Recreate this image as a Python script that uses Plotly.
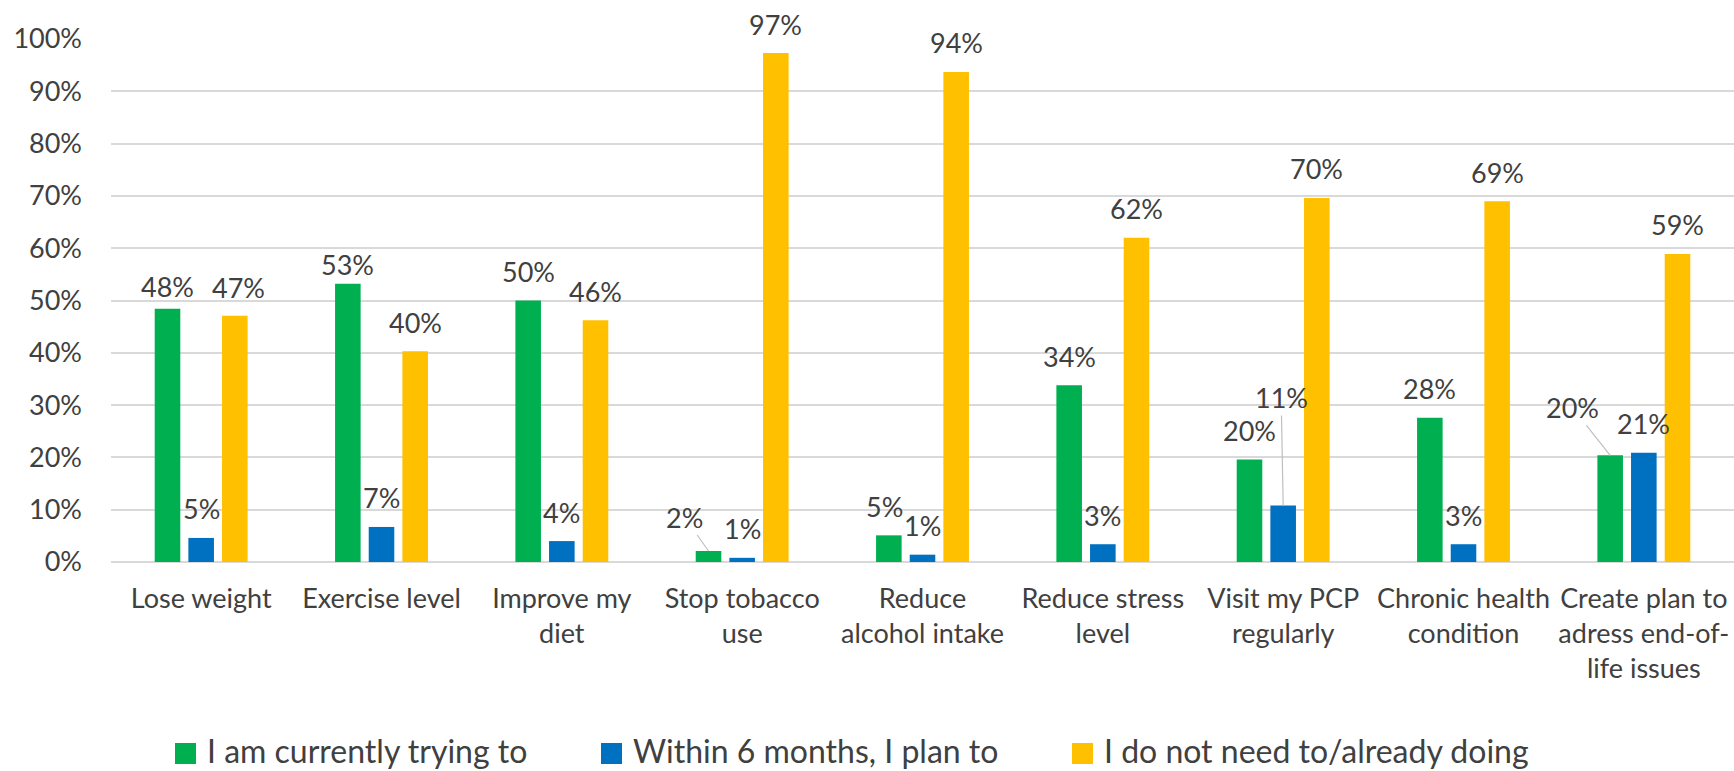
import plotly.graph_objects as go

# Survey categories (x axis) and the three response series, as fractions
categories = [
    "Lose weight",
    "Exercise level",
    "Improve my<br>diet",
    "Stop tobacco<br>use",
    "Reduce<br>alcohol intake",
    "Reduce stress<br>level",
    "Visit my PCP<br>regularly",
    "Chronic health<br>condition",
    "Create plan to<br>adress end-of-<br>life issues",
]
series_names = [
    "I am currently trying to",
    "Within 6 months, I plan to",
    "I do not need to/already doing",
]
currently_trying = [0.484, 0.532, 0.500, 0.021, 0.051, 0.338, 0.196, 0.276, 0.204]
plan_in_6_months = [0.046, 0.067, 0.040, 0.008, 0.014, 0.034, 0.108, 0.034, 0.209]
no_need_or_doing = [0.471, 0.403, 0.462, 0.973, 0.937, 0.620, 0.696, 0.690, 0.589]
y_ticks = [0.0, 0.1, 0.2, 0.3, 0.4, 0.5, 0.6, 0.7, 0.8, 0.9, 1.0]

series_values = [currently_trying, plan_in_6_months, no_need_or_doing]
colors = ["#00B050", "#0070C0", "#FFC000"]

W, H = 1734, 771
M_L, M_R, M_T, M_B = 111, 0, 39, 209
PLOT_W, PLOT_H = W - M_L - M_R, H - M_T - M_B
BARGAP, BARGROUPGAP = 0.44, 0.24
FONT = "Lato, 'Open Sans', sans-serif"
TEXT_COLOR = "#404040"
FS = 27
LEGEND_FS = 32

fig = go.Figure()
for name, vals, col in zip(series_names, series_values, colors):
    fig.add_trace(go.Bar(x=categories, y=vals, name=name, marker_color=col,
                         marker_line_width=0, hoverinfo="skip", showlegend=False))

# Horizontal pixel offset of each series' bar inside a category group
cat_w = PLOT_W / len(categories)
slot = cat_w * (1 - BARGAP) / len(series_values)
offsets = [(i - (len(series_values) - 1) / 2) * slot for i in range(len(series_values))]

# Label placement: default centre above the bar top, with a few hand nudges
DEFAULT_DY = 29
nudges = {
    (0, 0): (0, 22),
    (0, 1): (0, 19),
    (2, 0): (4, 28),
    (0, 4): (-4, 29),
}
# Labels moved away from their bar, connected by a leader line
leaders = {
    (0, 3): (-24, 34),
    (1, 6): (-2, 108),
    (0, 8): (-38, 48),
}

annotations = []
for i, vals in enumerate(series_values):
    for j, v in enumerate(vals):
        label = f"{v:.0%}"
        if (i, j) in leaders:
            dx, dy = leaders[(i, j)]
            annotations.append(dict(
                x=categories[j], y=v, xref="x", yref="y", xshift=offsets[i],
                text=label, showarrow=True, arrowhead=0, arrowwidth=1.2,
                arrowcolor="#bfbfbf", ax=dx, ay=-dy, standoff=0,
                font=dict(family=FONT, size=FS, color=TEXT_COLOR)))
        else:
            dx, dy = nudges.get((i, j), (0, DEFAULT_DY))
            annotations.append(dict(
                x=categories[j], y=v, xref="x", yref="y",
                xshift=offsets[i] + dx, yshift=dy, yanchor="middle",
                text=label, showarrow=False,
                font=dict(family=FONT, size=FS, color=TEXT_COLOR)))


# Legend row below the chart: colour key squares and series names (pixel layout)
def px_x(px):
    return (px - M_L) / PLOT_W


def px_y(py):
    return (H - M_B - py) / PLOT_H


legend_keys_left = [175, 601, 1072]
KEY_SIZE = 21
KEY_TOP = 743
TEXT_GAP = 9
TEXT_MID = 750
shapes = []
for name, col, left in zip(series_names, colors, legend_keys_left):
    shapes.append(dict(type="rect", xref="paper", yref="paper",
                       x0=px_x(left), x1=px_x(left + KEY_SIZE),
                       y0=px_y(KEY_TOP + KEY_SIZE), y1=px_y(KEY_TOP),
                       fillcolor=col, line_width=0, layer="above"))
    annotations.append(dict(
        xref="paper", yref="paper", x=px_x(left + KEY_SIZE + TEXT_GAP),
        y=px_y(TEXT_MID), xanchor="left", yanchor="middle",
        text=name, showarrow=False,
        font=dict(family=FONT, size=LEGEND_FS, color=TEXT_COLOR)))

fig.update_layout(
    width=W, height=H,
    margin=dict(l=M_L, r=M_R, t=M_T, b=M_B, pad=0),
    paper_bgcolor="white", plot_bgcolor="white",
    barmode="group", bargap=BARGAP, bargroupgap=BARGROUPGAP,
    font=dict(family=FONT, size=FS, color=TEXT_COLOR),
    annotations=annotations,
    shapes=shapes,
    showlegend=False,
    xaxis=dict(showgrid=False, showline=False, ticks="", ticklabelstandoff=18,
               tickfont=dict(family=FONT, size=FS, color=TEXT_COLOR),
               fixedrange=True),
    yaxis=dict(range=[0, 1.0], tickvals=y_ticks, tickformat=".0%",
               showgrid=True, gridcolor="#d9d9d9", gridwidth=1.5,
               zeroline=True, zerolinecolor="#d9d9d9", zerolinewidth=1.5,
               showline=False, ticks="", ticklabelstandoff=28,
               tickfont=dict(family=FONT, size=FS, color=TEXT_COLOR),
               fixedrange=True),
)

fig.write_html("out.html", config={"displayModeBar": False})
